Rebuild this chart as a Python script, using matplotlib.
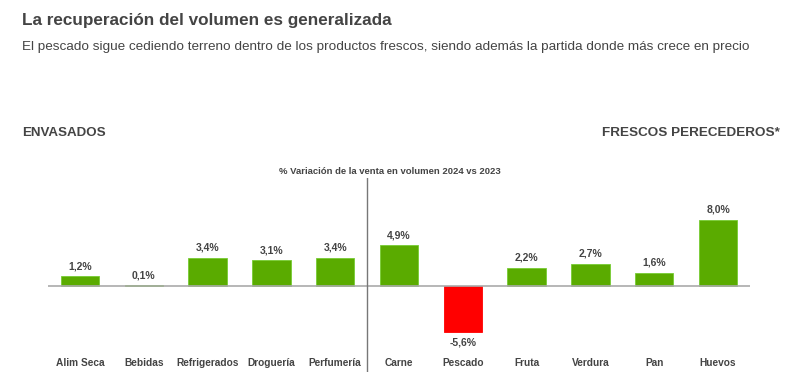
import matplotlib.pyplot as plt
import numpy as np

plt.rcParams['font.family'] = ['Liberation Sans', 'DejaVu Sans']

categories = ['Alim Seca', 'Bebidas', 'Refrigerados', 'Droguería', 'Perfumería',
              'Carne', 'Pescado', 'Fruta', 'Verdura', 'Pan', 'Huevos']
values = [1.2, 0.1, 3.4, 3.1, 3.4, 4.9, -5.6, 2.2, 2.7, 1.6, 8.0]
labels = ['1,2%', '0,1%', '3,4%', '3,1%', '3,4%', '4,9%', '-5,6%', '2,2%', '2,7%', '1,6%', '8,0%']

W, H = 794, 392
fig = plt.figure(figsize=(W / 100, H / 100), dpi=100)
txt = '#444444'

fig.text(22 / W, 1 - 20 / H, 'La recuperación del volumen es generalizada',
         fontsize=12.3, fontweight='bold', color=txt, va='center', ha='left')
fig.text(22 / W, 1 - 47 / H,
         'El pescado sigue cediendo terreno dentro de los productos frescos, siendo además la partida donde más crece en precio',
         fontsize=9.7, color=txt, va='center', ha='left')
fig.text(22 / W, 1 - 133 / H, 'ENVASADOS', fontsize=9.6, fontweight='bold',
         color=txt, va='center', ha='left')
fig.text(780 / W, 1 - 133 / H, 'FRESCOS PERECEDEROS*', fontsize=9.7, fontweight='bold',
         color=txt, va='center', ha='right')
fig.text(390 / W, 1 - 171 / H, '% Variación de la venta en volumen 2024 vs 2023',
         fontsize=6.8, fontweight='bold', color=txt, va='center', ha='center')

# axes placed in pixel terms: x 48..750, y 178..372
ax = fig.add_axes([48 / W, 1 - 372 / H, (750 - 48) / W, (372 - 178) / H])
ppu = 8.3
ax.set_xlim(-0.5, len(categories) - 0.5)
ax.set_ylim(-(372 - 286) / ppu, (286 - 178) / ppu)
ax.axis('off')

x = np.arange(len(categories))
colors = ['#5aab00' if v >= 0 else '#ff0000' for v in values]
edges = ['#77cc33' if v >= 0 else '#ff0000' for v in values]
ax.bar(x, values, width=0.6, color=colors, edgecolor=edges, linewidth=0.6, zorder=2)
ax.axhline(0, color='#aaaaaa', lw=1.2, zorder=3)
ax.axvline(4.5, color='#777777', lw=1, zorder=3)

for xi, v, lab, cat in zip(x, values, labels, categories):
    if v >= 0:
        ax.text(xi, v + 0.6, lab, ha='center', va='bottom', fontsize=7.5,
                fontweight='bold', color=txt)
    else:
        ax.text(xi, v - 0.6, lab, ha='center', va='top', fontsize=7.5,
                fontweight='bold', color=txt)
    ax.text(xi, -(363 - 286) / ppu, cat, ha='center',
            va='center', fontsize=7.3, fontweight='bold', color=txt)

fig.savefig('out.png', dpi=100, facecolor='white')
